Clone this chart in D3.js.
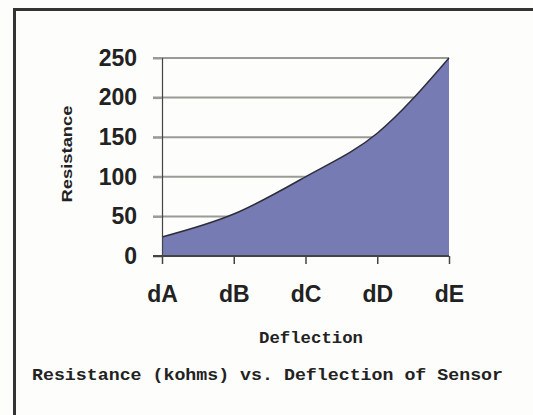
<!DOCTYPE html>
<html>
<head>
<meta charset="utf-8">
<script src="https://cdn.jsdelivr.net/npm/d3@7"></script>
<style>
  html, body { margin: 0; padding: 0; background: #fdfdfb; }
  svg { display: block; }
</style>
</head>
<body>
<svg id="chart" width="533" height="415"></svg>
<script>
// chart data
const categories = ['dA', 'dB', 'dC', 'dD', 'dE'];
const resistance = [24, 53, 100, 155, 250];
const yTicks = [0, 50, 100, 150, 200, 250];

const width = 533;
const height = 415;
const margin = { top: 58, right: 84, bottom: 159, left: 162 };

const svg = d3.select('#chart');

// outer frame (only top and left edges visible in the crop)
svg.append('path')
  .attr('d', `M14.5,${height} V9.5 H${width}`)
  .attr('fill', 'none')
  .attr('stroke', '#333')
  .attr('stroke-width', 3);

const x = d3.scalePoint()
  .domain(categories)
  .range([margin.left, width - margin.right]);

const y = d3.scaleLinear()
  .domain([0, 250])
  .range([height - margin.bottom, margin.top]);

// gridlines + tick marks on the left
svg.append('g')
  .selectAll('line')
  .data(yTicks.filter(d => d > 0))
  .join('line')
  .attr('x1', margin.left - 9)
  .attr('x2', width - margin.right)
  .attr('y1', d => y(d))
  .attr('y2', d => y(d))
  .attr('stroke', '#9a9a96')
  .attr('stroke-width', 2);

const data = categories.map((c, i) => ({ name: c, value: resistance[i] }));

const area = d3.area()
  .x(d => x(d.name))
  .y0(y(0))
  .y1(d => y(d.value))
  .curve(d3.curveMonotoneX);

const line = d3.line()
  .x(d => x(d.name))
  .y(d => y(d.value))
  .curve(d3.curveMonotoneX);

svg.append('path')
  .datum(data)
  .attr('d', area)
  .attr('fill', '#767bb4');

svg.append('path')
  .datum(data)
  .attr('d', line)
  .attr('fill', 'none')
  .attr('stroke', '#2e2e3a')
  .attr('stroke-width', 1.5);

// y axis
const yAxis = g => g
  .attr('transform', `translate(${margin.left},0)`)
  .call(d3.axisLeft(y).tickValues(yTicks).tickSize(9).tickPadding(16))
  .call(g => g.select('.domain').attr('stroke', '#444').attr('stroke-width', 1.2))
  .call(g => g.selectAll('.tick line').attr('stroke', '#9a9a96').attr('stroke-width', 2))
  .call(g => g.selectAll('text')
    .attr('fill', '#222')
    .attr('font-family', 'Liberation Sans, Arial, sans-serif')
    .attr('font-weight', 'bold')
    .attr('font-size', 23));

// x axis
const xAxis = g => g
  .attr('transform', `translate(0,${y(0)})`)
  .call(d3.axisBottom(x).tickSize(8).tickSizeOuter(0).tickPadding(22))
  .call(g => g.select('.domain').attr('stroke', '#444').attr('stroke-width', 2)
    .attr('d', `M${margin.left - 9},0H${width - margin.right}`))
  .call(g => g.selectAll('.tick line').attr('stroke', '#444').attr('stroke-width', 1.5))
  .call(g => g.selectAll('text')
    .attr('fill', '#222')
    .attr('font-family', 'Liberation Sans, Arial, sans-serif')
    .attr('font-weight', 'bold')
    .attr('font-size', 23));

svg.append('g').call(yAxis);
svg.append('g').call(xAxis);

// axis titles
svg.append('text')
  .attr('transform', 'translate(66,154) rotate(-90)')
  .attr('text-anchor', 'middle')
  .attr('dominant-baseline', 'central')
  .attr('font-family', 'Liberation Sans, Arial, sans-serif')
  .attr('font-weight', 'bold')
  .attr('font-size', 15)
  .attr('textLength', 97)
  .attr('lengthAdjust', 'spacingAndGlyphs')
  .attr('fill', '#222')
  .text('Resistance');

svg.append('text')
  .attr('x', 311)
  .attr('y', 343)
  .attr('text-anchor', 'middle')
  .attr('font-family', 'Liberation Mono, Courier New, monospace')
  .attr('font-weight', 'bold')
  .attr('font-size', 17)
  .attr('textLength', 104)
  .attr('lengthAdjust', 'spacingAndGlyphs')
  .attr('fill', '#222')
  .text('Deflection');

svg.append('text')
  .attr('x', 32)
  .attr('y', 380)
  .attr('font-family', 'Liberation Mono, Courier New, monospace')
  .attr('font-weight', 'bold')
  .attr('font-size', 17)
  .attr('textLength', 471)
  .attr('lengthAdjust', 'spacingAndGlyphs')
  .attr('fill', '#222')
  .text('Resistance (kohms) vs. Deflection of Sensor');
</script>
</body>
</html>
